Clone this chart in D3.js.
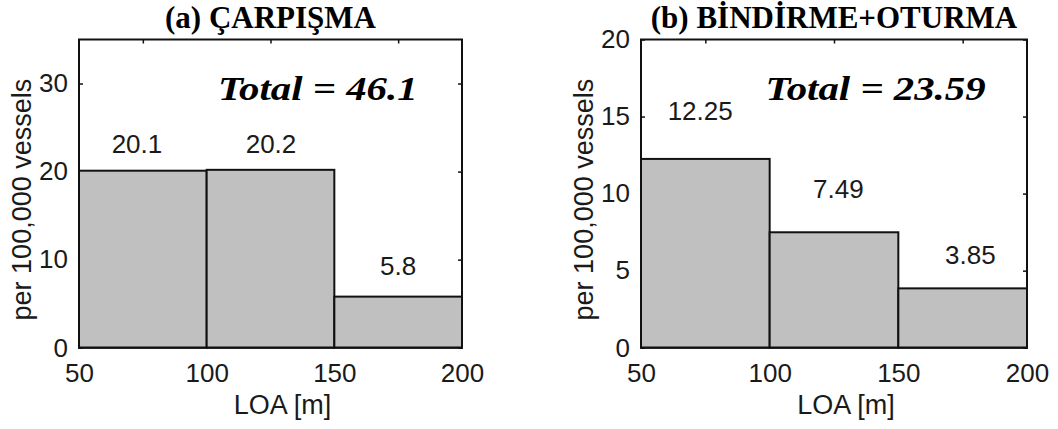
<!DOCTYPE html>
<html>
<head>
<meta charset="utf-8">
<script src="https://cdn.jsdelivr.net/npm/d3@7"></script>
<style>
  html, body { margin: 0; padding: 0; background: #fff; }
  svg { display: block; }
  .tick text { font-family: "Liberation Sans", Arial, sans-serif; font-size: 26px; fill: #1a1a1a; }
  .lbl { font-family: "Liberation Sans", Arial, sans-serif; font-size: 27px; fill: #1a1a1a; }
  .val { font-family: "Liberation Sans", Arial, sans-serif; font-size: 26px; fill: #1a1a1a; }
  .title { font-family: "Liberation Serif", "Times New Roman", serif; font-weight: bold; font-size: 31px; fill: #000; }
  .total { font-family: "Liberation Serif", "Times New Roman", serif; font-weight: bold; font-style: italic; font-size: 34px; fill: #000; }
</style>
</head>
<body>
<svg id="chart"></svg>
<script>
// shared x bins (LOA, m)
const binEdges = [50, 100, 150, 200];
const xTickValues = [50, 100, 150, 200];
const xMinorTicks = [75, 125, 175];
const xLabel = 'LOA [m]';
const yLabel = 'per 100,000 vessels';

// panel (a)
const titleA = '(a) ÇARPIŞMA';
const valuesA = [20.1, 20.2, 5.8];
const valueTextA = ['20.1', '20.2', '5.8'];
const labelXA = [72.7, 125.2, 175];   // data units (text placed like matlab text())
const labelYA = [22.1, 22.1, 8.3];
const yTicksA = [0, 10, 20, 30];
const yMaxA = 35;
const totalTextA = 'Total = 46.1';
const totalPosA = [104.4, 28.1];

// panel (b)
const titleB = '(b) BİNDİRME+OTURMA';
const valuesB = [12.25, 7.49, 3.85];
const valueTextB = ['12.25', '7.49', '3.85'];
const labelXB = [73, 126.7, 178];
const labelYB = [14.8, 9.7, 5.4];
const yTicksB = [0, 5, 10, 15, 20];
const yMaxB = 20;
const totalTextB = 'Total = 23.59';
const totalPosB = [98.4, 16.1];

const width = 1058, height = 429;
const svg = d3.select('#chart').attr('width', width).attr('height', height);

const panels = [
  { left: 79, right: 462, title: titleA, values: valuesA, texts: valueTextA, lx: labelXA, ly: labelYA,
    yTicks: yTicksA, yMax: yMaxA, total: totalTextA, totalPos: totalPosA },
  { left: 641, right: 1027, title: titleB, values: valuesB, texts: valueTextB, lx: labelXB, ly: labelYB,
    yTicks: yTicksB, yMax: yMaxB, total: totalTextB, totalPos: totalPosB }
];
const plotTop = 39.5, plotBottom = 347.7;

panels.forEach(p => {
  const g = svg.append('g');
  const x = d3.scaleLinear().domain([50, 200]).range([p.left, p.right]);
  const y = d3.scaleLinear().domain([0, p.yMax]).range([plotBottom, plotTop]);

  // inward ticks, like matlab's box axes
  g.append('g')
    .attr('transform', `translate(${p.left},0)`)
    .call(d3.axisLeft(y).tickValues(p.yTicks).tickSizeInner(-4).tickSizeOuter(0).tickPadding(11))
    .call(a => a.select('.domain').remove());
  g.append('g')
    .attr('transform', `translate(${p.right},0)`)
    .call(d3.axisRight(y).tickValues(p.yTicks).tickSizeInner(-4).tickSizeOuter(0).tickFormat(''))
    .call(a => a.select('.domain').remove());
  g.append('g')
    .attr('transform', `translate(0,${plotTop})`)
    .call(d3.axisTop(x).tickValues(xMinorTicks).tickSizeInner(-4).tickSizeOuter(0).tickFormat(''))
    .call(a => a.select('.domain').remove());
  g.append('g')
    .attr('transform', `translate(0,${plotBottom})`)
    .call(d3.axisBottom(x).tickValues(xTickValues).tickSize(0).tickPadding(16))
    .call(a => a.select('.domain').remove());
  g.selectAll('.tick line').attr('stroke', '#111').attr('stroke-width', 1.5);

  // bars
  g.append('g').selectAll('rect')
    .data(p.values)
    .join('rect')
      .attr('x', (d, i) => x(binEdges[i]))
      .attr('width', (d, i) => x(binEdges[i + 1]) - x(binEdges[i]))
      .attr('y', d => y(d))
      .attr('height', d => y(0) - y(d))
      .attr('fill', '#c0c0c0')
      .attr('stroke', '#111')
      .attr('stroke-width', 2);

  // axes box
  g.append('rect')
    .attr('x', p.left).attr('y', plotTop)
    .attr('width', p.right - p.left).attr('height', plotBottom - plotTop)
    .attr('fill', 'none').attr('stroke', '#111').attr('stroke-width', 2);

  // bar value labels
  g.append('g').selectAll('text')
    .data(p.texts)
    .join('text')
      .attr('class', 'val')
      .attr('text-anchor', 'middle')
      .attr('x', (d, i) => x(p.lx[i]))
      .attr('y', (d, i) => y(p.ly[i]))
      .text(d => d);

  g.append('text')
    .attr('class', 'total')
    .attr('transform', `translate(${x(p.totalPos[0])},${y(p.totalPos[1])}) scale(1.2,1)`)
    .text(p.total);

  g.append('text')
    .attr('class', 'title')
    .attr('text-anchor', 'middle')
    .attr('x', (p.left + p.right) / 2)
    .attr('y', 28)
    .text(p.title);

  g.append('text')
    .attr('class', 'lbl')
    .attr('text-anchor', 'middle')
    .attr('x', (p.left + p.right) / 2 + 12)
    .attr('y', 414)
    .text(xLabel);

  g.append('text')
    .attr('class', 'lbl')
    .attr('text-anchor', 'middle')
    .attr('transform', `translate(${p.left - 48},${(plotTop + plotBottom) / 2 + 6}) rotate(-90)`)
    .text(yLabel);
});
</script>
</body>
</html>
